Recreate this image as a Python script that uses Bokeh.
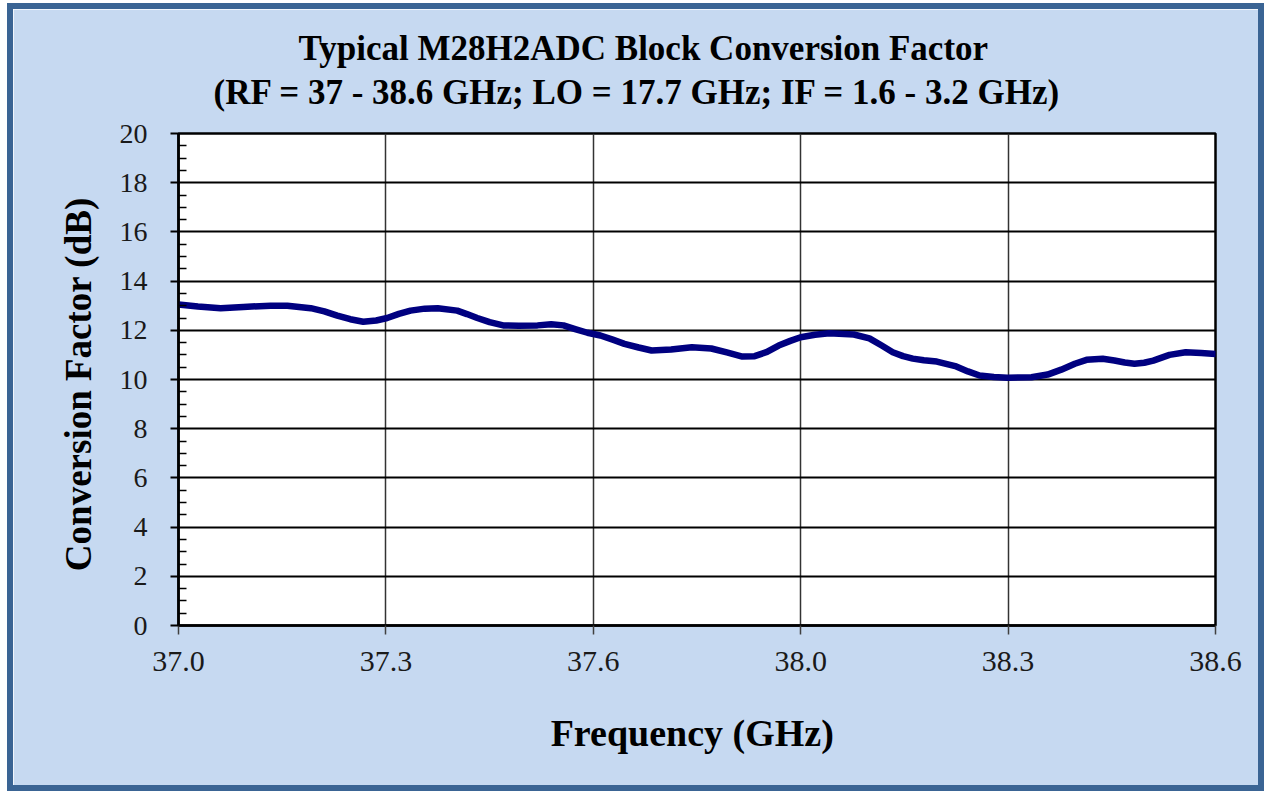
from bokeh.plotting import figure
from bokeh.models import Range1d, FixedTicker, NumeralTickFormatter, Title
from bokeh.embed import file_html
from bokeh.resources import INLINE

# ---- data ----
freq_ghz = [37.000, 37.030, 37.065, 37.100, 37.142, 37.168, 37.204, 37.225, 37.245, 37.265,
            37.285, 37.305, 37.322, 37.340, 37.358, 37.380, 37.400, 37.430, 37.445, 37.461,
            37.480, 37.501, 37.525, 37.554, 37.575, 37.594, 37.612, 37.631, 37.651, 37.670,
            37.688, 37.710, 37.730, 37.760, 37.792, 37.822, 37.846, 37.870, 37.889, 37.908,
            37.926, 37.944, 37.960, 37.982, 38.004, 38.042, 38.066, 38.085, 38.102, 38.118,
            38.133, 38.150, 38.170, 38.200, 38.218, 38.236, 38.258, 38.279, 38.316, 38.341,
            38.362, 38.383, 38.401, 38.426, 38.444, 38.460, 38.475, 38.490, 38.504, 38.529,
            38.554, 38.578, 38.600]
conv_db = [13.05, 12.97, 12.90, 12.95, 13.00, 13.00, 12.90, 12.77, 12.60, 12.45,
           12.35, 12.40, 12.50, 12.67, 12.80, 12.88, 12.90, 12.80, 12.66, 12.50,
           12.33, 12.20, 12.18, 12.20, 12.25, 12.20, 12.05, 11.90, 11.79, 11.62,
           11.45, 11.30, 11.18, 11.22, 11.31, 11.26, 11.10, 10.93, 10.95, 11.12,
           11.38, 11.57, 11.72, 11.82, 11.88, 11.83, 11.67, 11.38, 11.11, 10.95,
           10.85, 10.78, 10.73, 10.53, 10.33, 10.16, 10.10, 10.07, 10.09, 10.20,
           10.40, 10.64, 10.80, 10.84, 10.77, 10.69, 10.64, 10.68, 10.77, 11.00,
           11.11, 11.08, 11.04]
x_ticks = [37.0, 37.32, 37.64, 37.96, 38.28, 38.6]
y_ticks = [0, 2, 4, 6, 8, 10, 12, 14, 16, 18, 20]
y_minor = [v + d for v in y_ticks[:-1] for d in (0.5, 1.0, 1.5)]
title_lines = ["Typical M28H2ADC Block Conversion Factor",
               "(RF  = 37 - 38.6 GHz; LO = 17.7 GHz; IF = 1.6 - 3.2 GHz)"]
x_label = "Frequency  (GHz)"
y_label = "Conversion  Factor (dB)"

BG = "#c6d9f1"
SERIF = "Liberation Serif"

p = figure(width=1257, height=788, output_backend="svg", toolbar_location=None,
           x_range=Range1d(37.0, 38.6), y_range=Range1d(0, 20),
           min_border_left=165, min_border_right=55, min_border_top=124, min_border_bottom=172,
           background_fill_color="white", border_fill_color=BG,
           outline_line_color="black", outline_line_width=2.5)
p.styles = {"border": "6px solid #3a6494", "margin-left": "7px", "margin-top": "3px"}

p.line(freq_ghz, conv_db, line_color="#000080", line_width=6.5, line_join="round", line_cap="round")

# x axis
p.xaxis.ticker = FixedTicker(ticks=x_ticks)
p.xaxis.formatter = NumeralTickFormatter(format="0.0")
p.xaxis.axis_line_color = "black"
p.xaxis.axis_line_width = 2.5
p.xaxis.major_tick_out = 9
p.xaxis.major_tick_in = 0
p.xaxis.major_tick_line_color = "#404040"
p.xaxis.major_tick_line_width = 1.5
p.xaxis.minor_tick_line_color = None
p.xaxis.major_label_text_font = SERIF
p.xaxis.major_label_text_font_size = "30px"
p.xaxis.major_label_text_color = "#1a1a1a"
p.xaxis.major_label_standoff = 17
p.xaxis.axis_label = x_label
p.xaxis.axis_label_text_font = SERIF
p.xaxis.axis_label_text_font_style = "bold"
p.xaxis.axis_label_text_font_size = "38px"
p.xaxis.axis_label_text_color = "black"
p.xaxis.axis_label_standoff = 38

# y axis
p.yaxis.ticker = FixedTicker(ticks=y_ticks, minor_ticks=y_minor)
p.yaxis.axis_line_color = "black"
p.yaxis.axis_line_width = 2.5
p.yaxis.major_tick_out = 8
p.yaxis.major_tick_in = 0
p.yaxis.major_tick_line_color = "black"
p.yaxis.major_tick_line_width = 2
p.yaxis.minor_tick_in = 8
p.yaxis.minor_tick_out = 0
p.yaxis.minor_tick_line_color = "black"
p.yaxis.minor_tick_line_width = 1.5
p.yaxis.major_label_text_font = SERIF
p.yaxis.major_label_text_font_size = "28px"
p.yaxis.major_label_text_color = "#1a1a1a"
p.yaxis.major_label_standoff = 23
p.yaxis.axis_label = y_label
p.yaxis.axis_label_text_font = SERIF
p.yaxis.axis_label_text_font_style = "bold"
p.yaxis.axis_label_text_font_size = "37px"
p.yaxis.axis_label_text_color = "black"
p.yaxis.axis_label_standoff = 18

# grids
p.ygrid.ticker = FixedTicker(ticks=y_ticks)
p.ygrid.grid_line_color = "black"
p.ygrid.grid_line_width = 2
p.xgrid.ticker = FixedTicker(ticks=x_ticks)
p.xgrid.grid_line_color = "#333333"
p.xgrid.grid_line_width = 1.5

# title: two lines, second line added first (closest to the frame)
for txt, off, so in [(title_lines[1], 35, 44), (title_lines[0], 120, -38)]:
    p.add_layout(Title(text=txt, align="left", offset=off, standoff=so,
                       text_font=SERIF, text_font_style="bold", text_font_size="35px",
                       text_color="black"), "above")

open("out.html", "w").write(file_html(p, INLINE))
